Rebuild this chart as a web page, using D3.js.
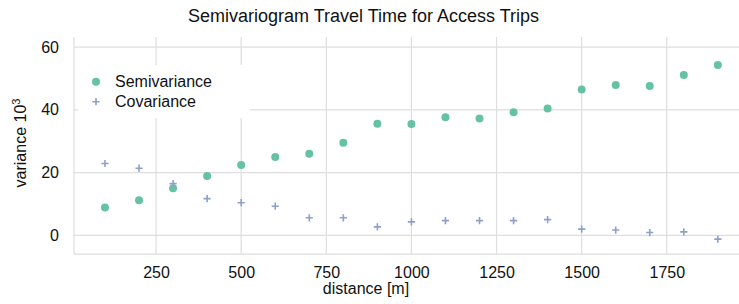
<!DOCTYPE html>
<html><head><meta charset="utf-8">
<script src="https://cdn.jsdelivr.net/npm/d3@7"></script>
<style>body{margin:0;background:#fff}svg{display:block;font-family:"Liberation Sans",Arial,Helvetica,sans-serif}</style>
</head><body><svg id="c" width="739" height="304"></svg>
<script>
const distances = [100,200,300,400,500,600,700,800,900,1000,1100,1200,1300,1400,1500,1600,1700,1800,1900];
const semivariance = [8.9,11.2,15.0,18.9,22.4,25.0,26.0,29.5,35.6,35.5,37.6,37.2,39.2,40.4,46.5,47.9,47.6,51.1,54.3];
const covariance = [22.9,21.4,16.5,11.7,10.4,9.3,5.6,5.6,2.7,4.3,4.7,4.7,4.7,5.0,2.0,1.7,0.9,1.1,-1.2];
const xTicks = [250,500,750,1000,1250,1500,1750];
const yTicks = [0,20,40,60];
const seriesNames = ["Semivariance","Covariance"];
const colors = ["#66c2a5","#8da0cb"];

const svg = d3.select("#c");
const L=74, R=748.5, T=37, B=254.2;
const x = d3.scaleLinear().domain([9,1990]).range([L,R]);
const y = d3.scaleLinear().domain([-6,63.2]).range([B,T]);
const grid="#dedede";

// grid
svg.append("g").selectAll("line").data(xTicks).join("line")
  .attr("x1",d=>x(d)).attr("x2",d=>x(d)).attr("y1",T).attr("y2",B)
  .attr("stroke",grid).attr("stroke-width",1.2);
svg.append("g").selectAll("line").data(yTicks).join("line")
  .attr("x1",L).attr("x2",R).attr("y1",d=>y(d)).attr("y2",d=>y(d))
  .attr("stroke",grid).attr("stroke-width",1.2);
// spines
svg.append("line").attr("x1",L).attr("x2",L).attr("y1",T).attr("y2",B).attr("stroke",grid).attr("stroke-width",1.2);
svg.append("line").attr("x1",L).attr("x2",R).attr("y1",B).attr("y2",B).attr("stroke",grid).attr("stroke-width",1.2);

// axes labels
const xAxis = d3.axisBottom(x).tickValues(xTicks).tickFormat(d3.format("d")).tickSize(0).tickPadding(12);
const gx = svg.append("g").attr("transform",`translate(0,${B})`).call(xAxis);
gx.select(".domain").remove();
gx.selectAll("text").attr("font-size",16).attr("fill","#111").attr("font-family","Liberation Sans, Arial, sans-serif");
const yAxis = d3.axisLeft(y).tickValues(yTicks).tickFormat(d3.format("d")).tickSize(0).tickPadding(15);
const gy = svg.append("g").attr("transform",`translate(${L},0)`).call(yAxis);
gy.select(".domain").remove();
gy.selectAll("text").attr("font-size",16).attr("fill","#111").attr("font-family","Liberation Sans, Arial, sans-serif");

// points
const sv = distances.map((d,i)=>({d,v:semivariance[i]}));
const cv = distances.map((d,i)=>({d,v:covariance[i]}));
svg.append("g").selectAll("circle").data(sv).join("circle")
  .attr("cx",p=>x(p.d)).attr("cy",p=>y(p.v)).attr("r",4).attr("fill",colors[0]);
svg.append("g").selectAll("path").data(cv).join("path")
  .attr("transform",p=>`translate(${x(p.d)},${y(p.v)})`)
  .attr("d","M-3.6,0H3.6M0,-3.6V3.6").attr("stroke",colors[1]).attr("stroke-width",1.6).attr("fill","none");

// legend
const lg = svg.append("g");
lg.append("rect").attr("x",78).attr("y",65).attr("width",172).attr("height",53).attr("fill","#fff");
lg.append("circle").attr("cx",96).attr("cy",81.7).attr("r",4).attr("fill",colors[0]);
lg.append("path").attr("transform","translate(96,101.7)").attr("d","M-3.6,0H3.6M0,-3.6V3.6").attr("stroke",colors[1]).attr("stroke-width",1.6);
lg.selectAll("text").data(seriesNames).join("text")
  .attr("x",115).attr("y",(d,i)=>87.3+i*20).attr("font-size",16).attr("fill","#111").text(d=>d);

// title & labels
svg.append("text").attr("x",363.5).attr("y",21.5).attr("text-anchor","middle").attr("font-size",18).attr("fill","#111")
  .text("Semivariogram Travel Time for Access Trips");
svg.append("text").attr("x",366).attr("y",294).attr("text-anchor","middle").attr("font-size",16).attr("fill","#111")
  .text("distance [m]");
const yl = svg.append("text").attr("transform","translate(25.5,143) rotate(-90)").attr("text-anchor","middle").attr("font-size",16).attr("fill","#111");
yl.append("tspan").text("variance 10");
yl.append("tspan").attr("font-size",11).attr("dy",-6).text("3");
</script></body></html>
